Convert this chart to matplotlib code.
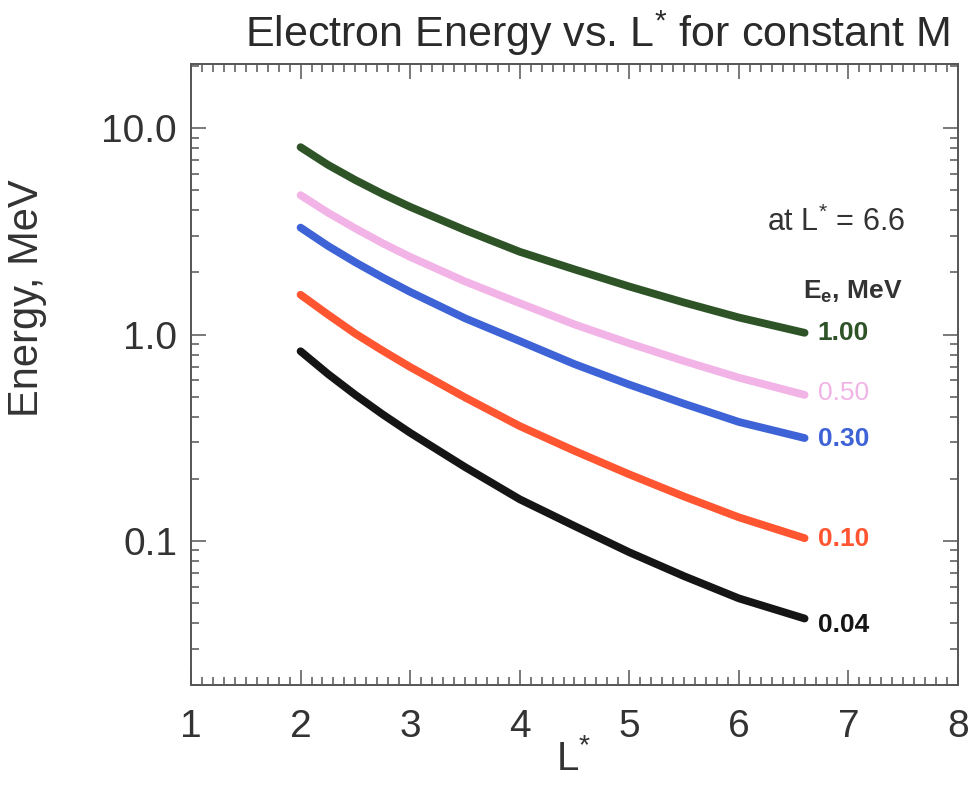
import matplotlib
matplotlib.use("Agg")
import matplotlib.pyplot as plt
from matplotlib.ticker import FixedLocator, FixedFormatter, LogLocator, NullFormatter, MultipleLocator

plt.rcParams['font.family'] = ['Liberation Sans', 'DejaVu Sans']
plt.rcParams['mathtext.fontset'] = 'custom'
plt.rcParams['mathtext.rm'] = 'Liberation Sans'
plt.rcParams['mathtext.bf'] = 'Liberation Sans:bold'
plt.rcParams['mathtext.default'] = 'regular'

# ---- data ----
L_star = [2.0, 2.25, 2.5, 2.75, 3.0, 3.5, 4.0, 4.5, 5.0, 5.5, 6.0, 6.6]
E_100 = [8.10, 6.65, 5.61, 4.80, 4.16, 3.21, 2.52, 2.07, 1.71, 1.43, 1.21, 1.02]
E_050 = [4.74, 3.90, 3.27, 2.77, 2.38, 1.81, 1.42, 1.12, 0.907, 0.744, 0.618, 0.51]
E_030 = [3.30, 2.69, 2.24, 1.89, 1.61, 1.20, 0.93, 0.719, 0.572, 0.462, 0.377, 0.315]
E_010 = [1.56, 1.25, 1.01, 0.835, 0.696, 0.496, 0.360, 0.273, 0.210, 0.164, 0.130, 0.103]
E_004 = [0.83, 0.644, 0.510, 0.410, 0.334, 0.228, 0.159, 0.118, 0.088, 0.0674, 0.0526, 0.042]

series = [E_100, E_050, E_030, E_010, E_004]
labels = ["1.00", "0.50", "0.30", "0.10", "0.04"]
label_y = [1.02, 0.52, 0.31, 0.102, 0.039]
colors = ["#2d5327", "#f2b3e6", "#3d63d6", "#ff5530", "#151515"]

x_ticks = [1, 2, 3, 4, 5, 6, 7, 8]
y_ticks = [0.1, 1.0, 10.0]
y_ticklabels = ["0.1", "1.0", "10.0"]

fig = plt.figure(figsize=(9.70, 7.85), dpi=100)
ax = fig.add_axes([191/970, 1-685/785, (958-191)/970, (685-64)/785])

for ys, c in zip(series, colors):
    ax.plot(L_star, ys, color=c, lw=5.6, solid_capstyle='round', solid_joinstyle='round')

ax.set_yscale('log')
ax.set_xlim(1, 8)
ax.set_ylim(0.02, 20.5)

ax.xaxis.set_major_locator(FixedLocator(x_ticks))
ax.xaxis.set_minor_locator(MultipleLocator(0.1))
ax.yaxis.set_major_locator(FixedLocator(y_ticks))
ax.yaxis.set_major_formatter(FixedFormatter(y_ticklabels))
ax.yaxis.set_minor_locator(LogLocator(base=10, subs=[2, 3, 4, 5, 6, 7, 8, 9]))
ax.yaxis.set_minor_formatter(NullFormatter())

spine_c = "#555555"
for s in ax.spines.values():
    s.set_color(spine_c)
    s.set_linewidth(1.4)
ax.tick_params(which='both', direction='in', top=True, right=True, color=spine_c, width=1.1)
ax.tick_params(which='major', length=11, labelsize=28, labelcolor='#333333')
ax.tick_params(which='minor', length=6)
ax.tick_params(axis='x', which='major', pad=17)
ax.tick_params(axis='y', which='major', pad=10)

for lab, ly, c in zip(labels, label_y, colors):
    bold = 'normal' if lab == "0.50" else 'bold'
    ax.text(6.72, ly, lab, color=c, fontsize=19, fontweight=bold, va='center', ha='left')

fig.text(597/970, 1-33/785, "Electron Energy vs. L$^{*}$ for constant M",
         fontsize=31, color='#2a2a2a', ha='center', va='center')
fig.text(27/970, 1-298/785, "Energy, MeV", fontsize=30, color='#333333',
         rotation=90, ha='center', va='center')
fig.text(574/970, 1-758/785, "L$^{*}$", fontsize=29, color='#333333', ha='center', va='center')
fig.text(905/970, 1-222/785, "at L$^{*}$ = 6.6", fontsize=22, color='#333333', ha='right', va='center')
fig.text(803/970, 1-292/785, r"E$_\mathbf{e}$, MeV", fontsize=19, fontweight='bold',
         color='#333333', ha='left', va='center')

fig.savefig("out.png", dpi=100)
